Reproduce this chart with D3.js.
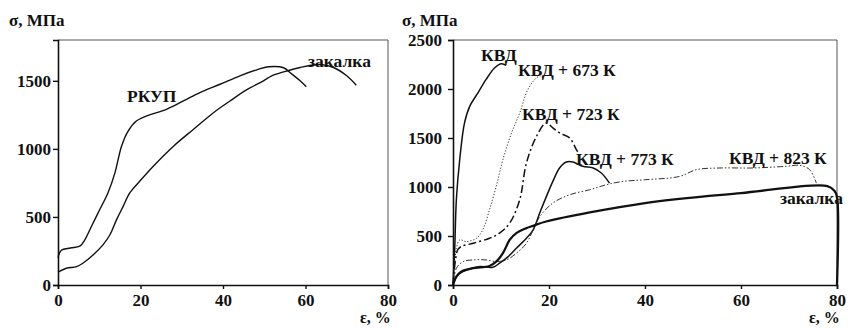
<!DOCTYPE html>
<html>
<head>
<meta charset="utf-8">
<script src="https://cdn.jsdelivr.net/npm/d3@7"></script>
<style>
  body { margin: 0; background: #fff; }
  svg text { font-family: "Liberation Serif", "Times New Roman", serif; font-weight: bold; fill: #111; }
</style>
</head>
<body>
<div id="chart"></div>
<script>
// strain, %  /  stress, MPa  -- left panel
const rkupEps = [0, 0.8, 3, 5.3, 6.5, 8.1, 10.1, 12.1, 13.8, 15.4, 17, 19, 21.5, 26.3, 30.4, 34.4, 39.3, 44.1, 48.2, 51, 54.7, 56.7, 58.7, 60.2];
const rkupSig = [200, 255, 272, 285, 332, 430, 553, 676, 824, 1020, 1131, 1205, 1242, 1291, 1352, 1414, 1475, 1537, 1581, 1603, 1596, 1549, 1500, 1456];
const zakLEps = [0, 2, 4.5, 6, 8.5, 10.9, 12.6, 14.2, 15.8, 17.4, 19.8, 23.1, 28, 32.8, 37.7, 41.7, 45.7, 49.8, 51.8, 54.7, 58.7, 63.6, 66.8, 70, 72.3];
const zakLSig = [95, 123, 135, 160, 221, 295, 369, 480, 578, 676, 762, 873, 1020, 1143, 1266, 1352, 1433, 1500, 1537, 1566, 1598, 1620, 1598, 1537, 1468];

// right panel
const kvdEps = [0, 0.35, 0.7, 1.4, 2.4, 3.5, 5.2, 6.9, 8.7, 10.1, 11.1];
const kvdSig = [0, 358, 870, 1279, 1654, 1825, 1961, 2098, 2217, 2258, 2241];
const k673Eps = [0, 0.4, 0.7, 1.4, 2.8, 4.9, 6.2, 7.6, 9, 10.4, 12.2, 13.9, 15.6, 17.4, 18.2];
const k673Sig = [0, 250, 375, 460, 443, 477, 563, 767, 1006, 1279, 1552, 1756, 1995, 2115, 2131];
const k723Eps = [0, 0.5, 1, 1.7, 4.2, 7.6, 9.7, 11.8, 13.9, 15.3, 17.4, 19.4, 20.8, 22.2, 24.3, 25.7, 26.4];
const k723Sig = [0, 250, 360, 392, 426, 477, 529, 631, 870, 1245, 1518, 1654, 1603, 1552, 1501, 1381, 1330];
const k773Eps = [0, 1, 2.8, 5.6, 8.3, 9.7, 11.5, 13.2, 15.3, 16.7, 18.1, 19.6, 20.8, 22.2, 23.6, 25, 27, 29.2, 30.9, 32.6];
const k773Sig = [0, 102, 153, 188, 181, 222, 290, 375, 477, 563, 740, 920, 1057, 1194, 1255, 1255, 1211, 1194, 1143, 1040];
const k823Eps = [0, 0.7, 2.1, 4.2, 6.9, 9, 11.1, 13.2, 15.3, 16.7, 18.1, 20.8, 24.3, 28.5, 31.9, 35.4, 40, 47.2, 50.7, 55.6, 62.5, 69.4, 72.2, 74.3, 75.7];
const k823Sig = [0, 171, 239, 256, 256, 239, 256, 324, 426, 563, 699, 836, 921, 972, 1023, 1057, 1074, 1108, 1177, 1194, 1194, 1211, 1221, 1177, 1040];
const zakREps = [0, 0.7, 1.7, 4.2, 7.6, 9, 10.4, 11.8, 13.2, 15.3, 16.7, 19.4, 40, 60, 78, 79.5, 80, 80];
const zakRSig = [0, 85, 136, 171, 194, 239, 324, 460, 529, 580, 604, 648, 836, 938, 1010, 960, 900, 0];

const xTicks = [0, 20, 40, 60, 80];
const leftYTicks = [0, 500, 1000, 1500];
const rightYTicks = [0, 500, 1000, 1500, 2000, 2500];

const svg = d3.select('#chart').append('svg')
  .attr('width', 851)
  .attr('height', 328);

const zip = (xs, ys) => xs.map((x, i) => [x, ys[i]]);

function panel(opt) {
  const x = d3.scaleLinear().domain([0, 80]).range([opt.left, opt.right]);
  const y = d3.scaleLinear().domain([0, opt.yMax]).range([285, 40]);
  const g = svg.append('g');

  // thin frame (top + right)
  g.append('path')
    .attr('d', `M${opt.left},40H${opt.right}V285`)
    .attr('fill', 'none')
    .attr('stroke', '#444')
    .attr('stroke-width', 0.9);

  const xAxis = g.append('g')
    .attr('transform', 'translate(0,285)')
    .call(d3.axisBottom(x).tickValues(xTicks).tickFormat(d3.format('d')).tickSize(4).tickPadding(5));
  const yAxis = g.append('g')
    .attr('transform', `translate(${opt.left},0)`)
    .call(d3.axisLeft(y).tickValues(opt.yTicks).tickFormat(d3.format('d')).tickSize(5).tickPadding(opt.yPad));

  [xAxis, yAxis].forEach(a => {
    a.select('.domain').attr('stroke', '#111').attr('stroke-width', 1.6);
    a.selectAll('.tick line').attr('stroke', '#111').attr('stroke-width', 1.4);
    a.selectAll('text')
      .attr('font-family', '"Liberation Serif", serif')
      .attr('font-weight', 'bold')
      .attr('font-size', 17)
      .attr('fill', '#111');
  });

  const line = d3.line()
    .x(d => x(d[0]))
    .y(d => y(d[1]))
    .curve(d3.curveCatmullRom.alpha(0.5));

  opt.series.forEach(s => {
    g.append('path')
      .datum(zip(s.eps, s.sig))
      .attr('d', line)
      .attr('fill', 'none')
      .attr('stroke', s.color || '#111')
      .attr('stroke-width', s.width || 1.4)
      .attr('stroke-dasharray', s.dash || null);
  });

  opt.labels.forEach(l => {
    g.append('text')
      .attr('x', l.x)
      .attr('y', l.y)
      .attr('font-size', 17.5)
      .text(l.text);
  });

  g.append('text')
    .attr('x', opt.titleX)
    .attr('y', 26)
    .attr('font-size', 17)
    .text('σ, МПа');
  g.append('text')
    .attr('x', opt.right - 28)
    .attr('y', 323)
    .attr('font-size', 16)
    .text('ε, %');
}

panel({
  left: 58, right: 388, yMax: 1800, yTicks: leftYTicks, titleX: 9, yPad: 2,
  series: [
    {eps: rkupEps, sig: rkupSig},
    {eps: zakLEps, sig: zakLSig}
  ],
  labels: [
    {x: 127, y: 102, text: 'РКУП'},
    {x: 308, y: 67, text: 'закалка'}
  ]
});

panel({
  left: 453, right: 837, yMax: 2500, yTicks: rightYTicks, titleX: 402, yPad: 6,
  series: [
    {eps: kvdEps, sig: kvdSig, width: 1.5},
    {eps: k673Eps, sig: k673Sig, width: 1, dash: '1.2,1.8', color: '#333'},
    {eps: k723Eps, sig: k723Sig, width: 1.5, dash: '8,3,2,3'},
    {eps: k773Eps, sig: k773Sig, width: 1.5},
    {eps: k823Eps, sig: k823Sig, width: 1, dash: '6,2,1.5,2,1.5,2', color: '#333'},
    {eps: zakREps, sig: zakRSig, width: 2.3}
  ],
  labels: [
    {x: 481, y: 61, text: 'КВД'},
    {x: 518, y: 76, text: 'КВД + 673 К'},
    {x: 522, y: 120, text: 'КВД + 723 К'},
    {x: 576, y: 165, text: 'КВД + 773 К'},
    {x: 729, y: 164, text: 'КВД + 823 К'},
    {x: 780, y: 204, text: 'закалка'}
  ]
});
</script>
</body>
</html>
